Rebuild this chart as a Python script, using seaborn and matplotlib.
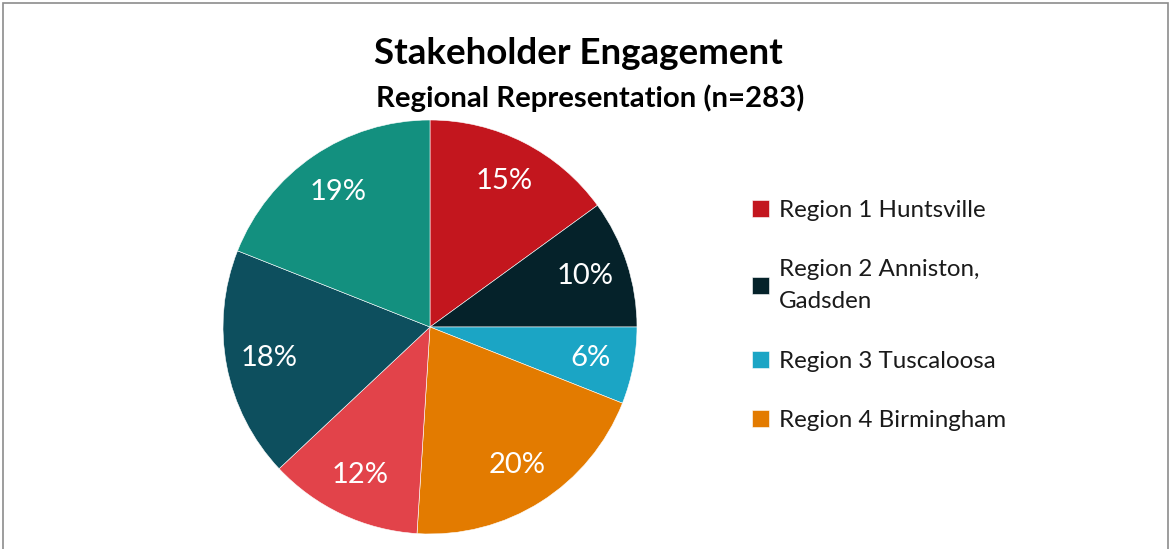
import matplotlib
matplotlib.use("Agg")
import matplotlib.pyplot as plt
import seaborn as sns
from matplotlib.patches import Rectangle

sns.set_theme(style="white")
plt.rcParams['font.family'] = ['Lato', 'DejaVu Sans']

regions = ["Region 1 Huntsville", "Region 2 Anniston,\nGadsden", "Region 3 Tuscaloosa",
           "Region 4 Birmingham", "Region 5", "Region 6", "Region 7"]
shares = [15, 10, 6, 20, 12, 18, 19]
colors = ["#C3161E", "#05222A", "#1BA5C5", "#E37B00", "#E2434A", "#0D4F5E", "#13907F"]
legend_count = 4

W, H = 1171, 549
fig = plt.figure(figsize=(W / 100, H / 100), dpi=100)
fig.patch.set_facecolor("white")

cx, cy, r = 430, 327, 207
ax = fig.add_axes([(cx - r) / W, (H - cy - r) / H, 2 * r / W, 2 * r / H])
wedges, texts, autotexts = ax.pie(
    shares, colors=colors, startangle=90, counterclock=False,
    autopct=lambda p: f"{p:.0f}%", pctdistance=0.79,
    wedgeprops=dict(edgecolor="white", linewidth=0.4),
    textprops=dict(color="white", fontsize=21))
ax.set_xlim(-1, 1)
ax.set_ylim(-1, 1)
ax.set_aspect("equal")
ax.axis("off")

leg = fig.legend(wedges[:legend_count], regions[:legend_count],
                 loc="upper left", bbox_to_anchor=(752 / W, 1 - 200 / H),
                 frameon=False, fontsize=17.4, handlelength=0.7, handleheight=0.7,
                 handletextpad=0.4, labelspacing=1.58, borderaxespad=0, borderpad=0)
for t in leg.get_texts():
    t.set_linespacing(1.66)
    t.set_color("#1a1a1a")

fig.text(578 / W, 1 - 53 / H, "Stakeholder Engagement", ha="center", va="center",
         fontsize=26.5, fontweight="bold", color="black")
fig.text(590 / W, 1 - 98 / H, "Regional Representation (n=283)", ha="center", va="center",
         fontsize=21.2, fontweight="bold", color="black")

fig.add_artist(Rectangle((2.5 / W, -0.05), (1168 - 2.5) / W, 1.05 - 2.5 / H,
                         transform=fig.transFigure, fill=False,
                         edgecolor="#8C8C8C", linewidth=1.2))

fig.savefig("out.png", dpi=100, facecolor="white")
